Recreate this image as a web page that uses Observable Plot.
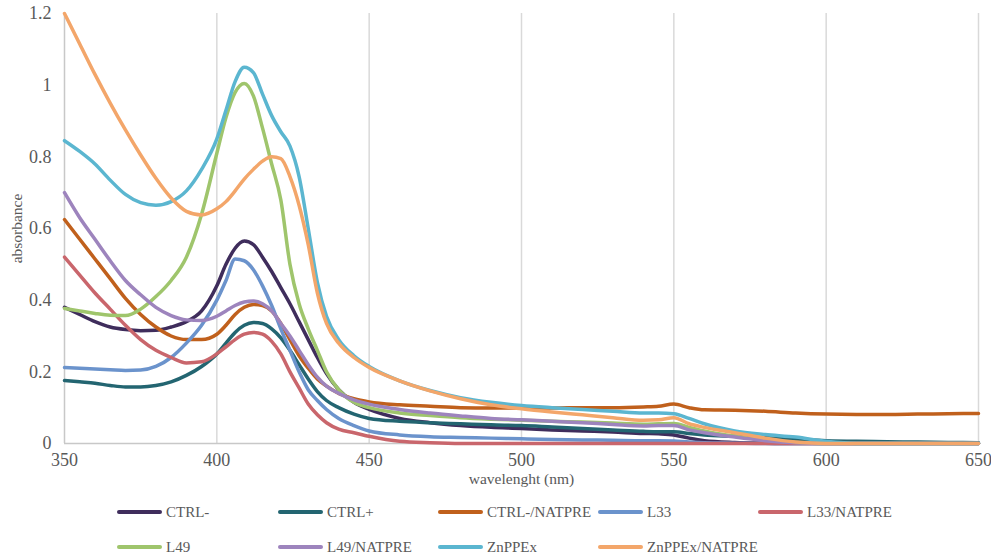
<!DOCTYPE html>
<html>
<head>
<meta charset="utf-8">
<script src="https://cdn.jsdelivr.net/npm/d3@7"></script>
<script src="https://cdn.jsdelivr.net/npm/@observablehq/plot@0.6"></script>
<style>
  html, body { margin: 0; padding: 0; background: #fff; }
  #wrap { position: relative; width: 991px; height: 559px; overflow: hidden; }
  #legend { position: absolute; left: 0; top: 490px; width: 991px; height: 69px;
    font-family: "Liberation Serif", "DejaVu Serif", serif; font-size: 15px; color: #595959; }
  .item { position: absolute; display: flex; align-items: center; white-space: nowrap; }
  .sw { width: 45px; height: 4px; border-radius: 2px; margin-right: 4px; }
</style>
</head>
<body>
<div id="wrap"><div id="chart"></div><div id="legend"></div></div>
<script>
const wavelengths = [350,355,360,365,370,375,380,385,390,395,400,403,406,409,412,415,418,421,424,427,430,433,436,440,445,450,460,470,480,490,500,510,520,530,540,545,550,555,560,570,580,590,600,610,620,630,640,650];

const seriesNames = ["CTRL-","CTRL+","CTRL-/NATPRE","L33","L33/NATPRE","L49","L49/NATPRE","ZnPPEx","ZnPPEx/NATPRE"];
const seriesColors = ["#3f2d5c","#236571","#c0601c","#6b93cc","#c9666c","#9fc56c","#9d84bd","#5bb6d0","#f3a66a"];

const ctrlMinus = [0.38,0.36,0.34,0.325,0.318,0.315,0.316,0.325,0.34,0.37,0.44,0.50,0.545,0.565,0.555,0.52,0.48,0.435,0.39,0.34,0.29,0.24,0.195,0.15,0.115,0.095,0.07,0.058,0.05,0.045,0.042,0.038,0.035,0.032,0.028,0.027,0.024,0.015,0.008,0.003,0.001,0,0,0,0,0,0,0];
const ctrlPlus = [0.176,0.172,0.168,0.162,0.158,0.158,0.162,0.172,0.19,0.215,0.25,0.28,0.31,0.33,0.338,0.335,0.32,0.295,0.26,0.22,0.18,0.145,0.12,0.1,0.082,0.07,0.062,0.058,0.055,0.052,0.05,0.046,0.042,0.038,0.034,0.033,0.033,0.028,0.024,0.02,0.016,0.012,0.008,0.006,0.005,0.004,0.003,0.002];
const ctrlMinusNatpre = [0.625,0.57,0.515,0.46,0.405,0.36,0.325,0.30,0.29,0.29,0.305,0.33,0.36,0.38,0.388,0.385,0.37,0.335,0.29,0.245,0.21,0.18,0.16,0.14,0.125,0.116,0.108,0.104,0.1,0.099,0.099,0.099,0.1,0.1,0.102,0.104,0.11,0.1,0.094,0.093,0.09,0.085,0.082,0.081,0.081,0.082,0.083,0.084];
const l33 = [0.212,0.21,0.208,0.206,0.204,0.205,0.215,0.24,0.28,0.33,0.40,0.455,0.515,0.51,0.485,0.44,0.385,0.32,0.26,0.2,0.15,0.12,0.095,0.07,0.05,0.035,0.024,0.019,0.017,0.015,0.013,0.011,0.01,0.009,0.008,0.008,0.007,0.004,0.002,0.001,0,0,0,0,0,0,0,0];
const l33Natpre = [0.52,0.47,0.42,0.375,0.33,0.29,0.26,0.24,0.225,0.228,0.25,0.27,0.29,0.305,0.31,0.305,0.285,0.25,0.2,0.155,0.11,0.08,0.058,0.04,0.03,0.02,0.006,0.002,0,0,0,0,0,0,0,0,0,0,0,0,0,0,0,0,0,0,0,0];
const l49 = [0.377,0.37,0.363,0.358,0.357,0.375,0.41,0.455,0.52,0.64,0.81,0.91,0.98,1.005,0.97,0.88,0.78,0.68,0.5,0.39,0.32,0.26,0.2,0.15,0.115,0.1,0.085,0.078,0.072,0.068,0.065,0.062,0.06,0.057,0.054,0.055,0.056,0.045,0.035,0.02,0.01,0.003,0,0,0,0,0,0];
const l49Natpre = [0.70,0.63,0.57,0.51,0.455,0.415,0.38,0.357,0.345,0.343,0.355,0.37,0.385,0.395,0.398,0.39,0.37,0.335,0.3,0.26,0.22,0.185,0.16,0.14,0.122,0.11,0.095,0.085,0.077,0.07,0.066,0.062,0.058,0.053,0.049,0.05,0.05,0.038,0.03,0.018,0.008,0.002,0,0,0,0,0,0];
const znppex = [0.845,0.815,0.78,0.735,0.695,0.672,0.665,0.675,0.705,0.765,0.85,0.93,1.01,1.05,1.035,0.975,0.915,0.87,0.83,0.745,0.6,0.45,0.355,0.29,0.245,0.215,0.175,0.148,0.128,0.115,0.106,0.1,0.095,0.09,0.085,0.085,0.083,0.07,0.055,0.035,0.025,0.018,0.006,0,0,0,0,0];
const znppexNatpre = [1.2,1.115,1.03,0.95,0.875,0.805,0.74,0.685,0.648,0.638,0.655,0.675,0.705,0.738,0.765,0.788,0.8,0.795,0.745,0.665,0.555,0.42,0.335,0.28,0.24,0.212,0.175,0.147,0.125,0.108,0.097,0.088,0.08,0.072,0.065,0.066,0.072,0.055,0.045,0.03,0.015,0.004,0,0,0,0,0,0];

const seriesValues = [ctrlMinus, ctrlPlus, ctrlMinusNatpre, l33, l33Natpre, l49, l49Natpre, znppex, znppexNatpre];

const xTicks = [350,400,450,500,550,600,650];
const yTicks = [0,0.2,0.4,0.6,0.8,1,1.2];
const gridTicks = [400,450,500,550,600,650];

const data = [];
seriesNames.forEach((name, i) => {
  seriesValues[i].forEach((v, j) => data.push({series: name, wl: wavelengths[j], abs: v}));
});

const serif = "'Liberation Serif', 'DejaVu Serif', serif";

const chart = Plot.plot({
  width: 991,
  height: 490,
  marginLeft: 64,
  marginRight: 13,
  marginTop: 13,
  marginBottom: 47,
  style: {fontFamily: serif, fontSize: "18px", color: "#595959", background: "#fff"},
  x: {domain: [350, 650], ticks: xTicks, tickSize: 0, tickPadding: 10, label: "wavelenght (nm)", labelAnchor: "center", labelArrow: "none", labelOffset: 40},
  y: {domain: [0, 1.2], ticks: yTicks, tickSize: 0, tickPadding: 13, tickFormat: d => String(+d.toFixed(1)), label: "absorbance", labelAnchor: "center", labelArrow: "none", labelOffset: 54},
  color: {domain: seriesNames, range: seriesColors},
  marks: [
    Plot.ruleX(gridTicks, {stroke: "#d9d9d9", strokeWidth: 1.5}),
    Plot.ruleY([0], {stroke: "#c8c8c8", strokeWidth: 1.5}),
    Plot.ruleX([350], {stroke: "#c8c8c8", strokeWidth: 1.5}),
    Plot.line(data, {x: "wl", y: "abs", z: "series", stroke: "series", strokeWidth: 3.5, curve: "monotone-x", strokeLinejoin: "round", strokeLinecap: "round"})
  ]
});
document.getElementById("chart").appendChild(chart);
d3.select(chart).selectAll("g[aria-label='y-axis label'] text, g[aria-label='x-axis label'] text").style("font-size", "15.5px");

const legend = document.getElementById("legend");
const colLeft = [117, 278, 438, 598, 758];
const rowTop = [22, 57];
seriesNames.forEach((name, i) => {
  const it = document.createElement("div");
  it.className = "item";
  it.style.left = colLeft[i % 5] + "px";
  it.style.top = (rowTop[Math.floor(i / 5)] - 10) + "px";
  it.style.height = "20px";
  const sw = document.createElement("div");
  sw.className = "sw";
  sw.style.background = seriesColors[i];
  const tx = document.createElement("span");
  tx.textContent = name;
  it.appendChild(sw); it.appendChild(tx);
  legend.appendChild(it);
});
</script>
</body>
</html>
